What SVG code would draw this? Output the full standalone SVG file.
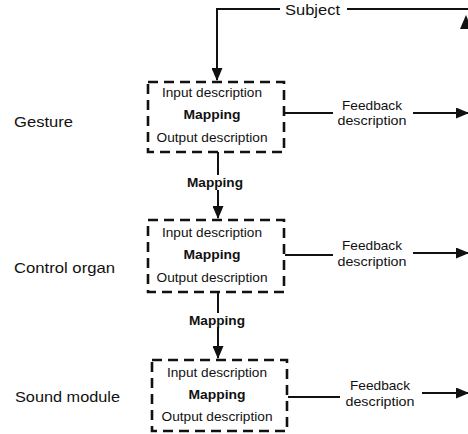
<svg xmlns="http://www.w3.org/2000/svg" width="468" height="434" viewBox="0 0 468 434">
<style>
text{font-family:"Liberation Sans",Arial,sans-serif;fill:#111}
.lbl{font-size:15px}
.bx{font-size:12.5px;text-anchor:middle}
.b{font-weight:bold}
.fb{font-size:13px;text-anchor:middle}
.box{fill:none;stroke:#111;stroke-width:2.6;stroke-dasharray:10 6}
.ln{fill:none;stroke:#111;stroke-width:2}
</style>
<defs>
<marker id="ah" markerWidth="13" markerHeight="11" refX="12" refY="5.5" orient="auto" markerUnits="userSpaceOnUse">
<path d="M0,0 L13,5.5 L0,11 Z" fill="#111"/>
</marker>
</defs>
<rect width="468" height="434" fill="#fff"/>
<g id="labels">
<text class="lbl" x="14" y="127" textLength="59" lengthAdjust="spacingAndGlyphs">Gesture</text>
<text class="lbl" x="14" y="273" textLength="101" lengthAdjust="spacingAndGlyphs">Control organ</text>
<text class="lbl" x="15" y="402" textLength="105" lengthAdjust="spacingAndGlyphs">Sound module</text>
</g>
<g id="box1">
<rect class="box" x="148" y="82" width="136" height="70"/>
<text class="bx" x="212" y="97" textLength="100" lengthAdjust="spacingAndGlyphs">Input description</text>
<text class="bx b" x="212" y="119" textLength="57" lengthAdjust="spacingAndGlyphs">Mapping</text>
<text class="bx" x="212" y="142" textLength="111" lengthAdjust="spacingAndGlyphs">Output description</text>
</g>
<g id="box2">
<rect class="box" x="148" y="220" width="136" height="72"/>
<text class="bx" x="212" y="237" textLength="100" lengthAdjust="spacingAndGlyphs">Input description</text>
<text class="bx b" x="212" y="259" textLength="57" lengthAdjust="spacingAndGlyphs">Mapping</text>
<text class="bx" x="212" y="282" textLength="111" lengthAdjust="spacingAndGlyphs">Output description</text>
</g>
<g id="box3">
<rect class="box" x="152" y="360" width="135" height="71"/>
<text class="bx" x="217" y="377" textLength="100" lengthAdjust="spacingAndGlyphs">Input description</text>
<text class="bx b" x="217" y="399" textLength="57" lengthAdjust="spacingAndGlyphs">Mapping</text>
<text class="bx" x="217" y="421" textLength="111" lengthAdjust="spacingAndGlyphs">Output description</text>
</g>
<g id="connectors">
<path class="ln" d="M280,9 L217,9 L217,80" marker-end="url(#ah)"/>
<path class="ln" d="M347,9 L468,9"/>
<path d="M460,29 L466,15 L472,29 Z" fill="#111"/>
<text class="lbl" x="285" y="15" textLength="55" lengthAdjust="spacingAndGlyphs">Subject</text>
<path class="ln" d="M218,152 L218,175"/>
<path class="ln" d="M218,190 L218,218" marker-end="url(#ah)"/>
<text class="bx b" x="215" y="187" textLength="56" lengthAdjust="spacingAndGlyphs">Mapping</text>
<path class="ln" d="M218,292 L218,313"/>
<path class="ln" d="M218,327 L218,358" marker-end="url(#ah)"/>
<text class="bx b" x="217" y="325" textLength="56" lengthAdjust="spacingAndGlyphs">Mapping</text>
<path class="ln" d="M285,113 L333,113"/>
<path class="ln" d="M413,113 L468,113" marker-end="url(#ah)"/>
<text class="fb" x="372" y="110" textLength="60" lengthAdjust="spacingAndGlyphs">Feedback</text>
<text class="fb" x="372" y="125" textLength="69" lengthAdjust="spacingAndGlyphs">description</text>
<path class="ln" d="M285,255 L333,255"/>
<path class="ln" d="M413,253 L468,253" marker-end="url(#ah)"/>
<text class="fb" x="372" y="250" textLength="60" lengthAdjust="spacingAndGlyphs">Feedback</text>
<text class="fb" x="372" y="266" textLength="69" lengthAdjust="spacingAndGlyphs">description</text>
<path class="ln" d="M288,397 L340,397"/>
<path class="ln" d="M422,393 L468,393" marker-end="url(#ah)"/>
<text class="fb" x="380" y="390" textLength="60" lengthAdjust="spacingAndGlyphs">Feedback</text>
<text class="fb" x="380" y="406" textLength="69" lengthAdjust="spacingAndGlyphs">description</text>
</g>
</svg>
